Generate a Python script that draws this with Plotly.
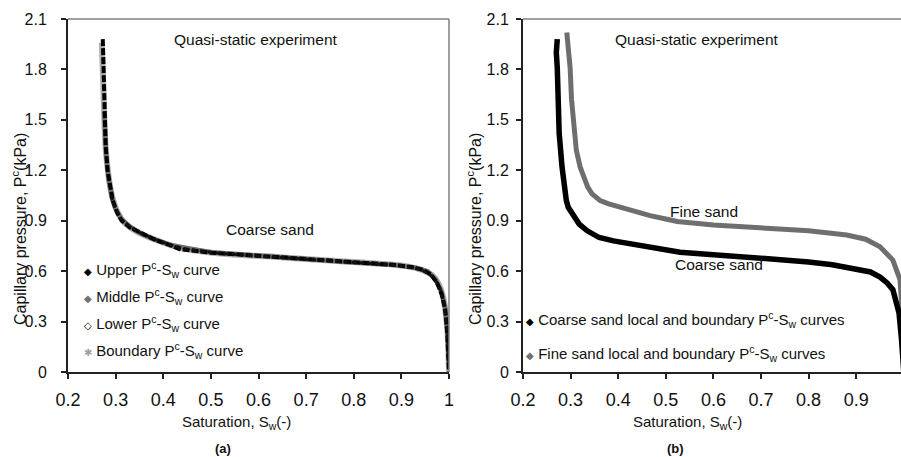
import plotly.graph_objects as go

W, H = 901, 457

# ---------------- data ----------------
# Panel (a): coarse sand, quasi-static experiment
upper_sw = [0.273, 0.274, 0.275, 0.276, 0.279, 0.283, 0.288, 0.294, 0.303, 0.313, 0.330, 0.351,
            0.380, 0.414, 0.435, 0.500, 0.576, 0.650, 0.750, 0.820, 0.891, 0.920, 0.946, 0.962,
            0.975, 0.985, 0.992, 0.996, 0.999, 1.000]
upper_pc = [1.98, 1.85, 1.70, 1.50, 1.35, 1.20, 1.10, 1.02, 0.95, 0.90, 0.86, 0.83,
            0.79, 0.755, 0.73, 0.71, 0.696, 0.68, 0.662, 0.65, 0.636, 0.625, 0.607, 0.58,
            0.53, 0.46, 0.37, 0.25, 0.10, 0.00]

middle_sw = [0.276, 0.280, 0.285, 0.292, 0.300, 0.312, 0.330, 0.352, 0.385, 0.420, 0.500, 0.600,
             0.700, 0.800, 0.880, 0.930, 0.955, 0.972, 0.984, 0.992, 0.997, 1.000]
middle_pc = [1.55, 1.30, 1.15, 1.04, 0.97, 0.91, 0.865, 0.825, 0.785, 0.752, 0.712, 0.69,
             0.668, 0.652, 0.638, 0.62, 0.60, 0.55, 0.48, 0.38, 0.22, 0.02]

lower_sw = [0.290, 0.298, 0.310, 0.328, 0.350, 0.390, 0.440, 0.520, 0.620, 0.720, 0.820, 0.900,
            0.940, 0.965, 0.980, 0.990, 0.996, 1.000]
lower_pc = [1.05, 0.98, 0.915, 0.87, 0.83, 0.78, 0.735, 0.705, 0.686, 0.665, 0.648, 0.632,
            0.612, 0.57, 0.51, 0.40, 0.26, 0.03]

boundary_sw = [0.271, 0.273, 0.275, 0.277, 0.280, 0.285, 0.290, 0.297, 0.306, 0.316, 0.333, 0.355,
               0.385, 0.420, 0.460, 0.540, 0.620, 0.700, 0.780, 0.860, 0.910, 0.945, 0.965,
               0.978, 0.988, 0.994, 0.998, 1.000]
boundary_pc = [1.96, 1.80, 1.62, 1.45, 1.30, 1.17, 1.08, 1.00, 0.94, 0.895, 0.855, 0.82,
               0.785, 0.75, 0.725, 0.70, 0.688, 0.672, 0.658, 0.643, 0.63, 0.605, 0.575,
               0.525, 0.44, 0.33, 0.18, 0.00]

series_a_names = ["Upper P<sup>c</sup>-S<sub>w</sub> curve",
                  "Middle P<sup>c</sup>-S<sub>w</sub> curve",
                  "Lower P<sup>c</sup>-S<sub>w</sub> curve",
                  "Boundary P<sup>c</sup>-S<sub>w</sub> curve"]

# Panel (b): coarse sand vs fine sand
coarse_sw = [0.272, 0.270, 0.272, 0.276, 0.282, 0.287, 0.291, 0.295, 0.305, 0.318, 0.335, 0.360,
             0.390, 0.430, 0.470, 0.530, 0.600, 0.700, 0.800, 0.850, 0.900, 0.930, 0.950,
             0.965, 0.977, 0.985, 0.990, 0.995, 1.000]
coarse_pc = [1.98, 1.90, 1.81, 1.42, 1.22, 1.10, 1.02, 0.98, 0.93, 0.88, 0.84, 0.80,
             0.78, 0.76, 0.74, 0.712, 0.698, 0.678, 0.655, 0.638, 0.615, 0.595, 0.565,
             0.53, 0.49, 0.42, 0.35, 0.20, 0.00]

fine_sw = [0.292, 0.296, 0.299, 0.302, 0.307, 0.312, 0.320, 0.327, 0.336, 0.345, 0.362, 0.380,
           0.410, 0.440, 0.467, 0.500, 0.524, 0.600, 0.700, 0.800, 0.880, 0.920, 0.950,
           0.977, 0.992, 0.998, 1.000]
fine_pc = [2.02, 1.90, 1.81, 1.62, 1.42, 1.32, 1.22, 1.16, 1.10, 1.06, 1.02, 1.00,
           0.975, 0.95, 0.93, 0.91, 0.895, 0.875, 0.857, 0.84, 0.815, 0.79, 0.745,
           0.666, 0.55, 0.30, 0.00]

series_b_names = ["Coarse sand local and boundary P<sup>c</sup>-S<sub>w</sub> curves",
                  "Fine sand local and boundary P<sup>c</sup>-S<sub>w</sub> curves"]

x_ticks = [0.2, 0.3, 0.4, 0.5, 0.6, 0.7, 0.8, 0.9, 1.0]
x_ticktext = ["0.2", "0.3", "0.4", "0.5", "0.6", "0.7", "0.8", "0.9", "1"]
y_ticks = [0, 0.3, 0.6, 0.9, 1.2, 1.5, 1.8, 2.1]
y_ticktext = ["0", "0.3", "0.6", "0.9", "1.2", "1.5", "1.8", "2.1"]

# ---------------- layout helpers ----------------
def px(x):
    return x / W

def py(y):
    return 1 - y / H

FONT = "Liberation Sans, Arial, sans-serif"
TICKFONT = "Liberation Sans Narrow, Arial Narrow, Liberation Sans, Arial, sans-serif"

fig = go.Figure()

# panel (a) traces
fig.add_trace(go.Scatter(x=boundary_sw, y=boundary_pc, mode="lines", name=series_a_names[3],
                         line=dict(color="#b0b0b0", width=6, shape="spline", smoothing=0.6),
                         xaxis="x", yaxis="y", showlegend=False))
fig.add_trace(go.Scatter(x=middle_sw, y=middle_pc, mode="lines", name=series_a_names[1],
                         line=dict(color="#707070", width=4.5), xaxis="x", yaxis="y", showlegend=False))
fig.add_trace(go.Scatter(x=upper_sw, y=upper_pc, mode="lines", name=series_a_names[0],
                         line=dict(color="#000000", width=4, dash="7px,2px"), xaxis="x", yaxis="y",
                         showlegend=False))
fig.add_trace(go.Scatter(x=lower_sw, y=lower_pc, mode="lines", name=series_a_names[2],
                         line=dict(color="#111111", width=3, dash="5px,3px"), xaxis="x", yaxis="y",
                         showlegend=False))

# panel (b) traces
fig.add_trace(go.Scatter(x=fine_sw, y=fine_pc, mode="lines", name=series_b_names[1],
                         line=dict(color="#6e6e6e", width=5), xaxis="x2", yaxis="y2", showlegend=False))
fig.add_trace(go.Scatter(x=coarse_sw, y=coarse_pc, mode="lines", name=series_b_names[0],
                         line=dict(color="#000000", width=5.5), xaxis="x2", yaxis="y2", showlegend=False))

axis_common = dict(showgrid=False, zeroline=False, showline=True, linecolor="#222222", linewidth=2,
                   ticks="outside", ticklen=5, tickwidth=1.5, tickcolor="#222222", automargin=False)

fig.update_layout(
    width=W, height=H,
    margin=dict(l=0, r=0, t=0, b=0, autoexpand=False),
    paper_bgcolor="white", plot_bgcolor="white",
    font=dict(family=FONT, color="#111111"),
    xaxis=dict(domain=[px(68), px(449)], range=[0.2, 1.0], tickvals=x_ticks, ticktext=x_ticktext,
               anchor="y", ticklabelstandoff=5, **axis_common),
    yaxis=dict(domain=[py(372), py(19)], range=[0, 2.1], tickvals=y_ticks, ticktext=y_ticktext,
               anchor="x", ticklabelstandoff=11, **axis_common),
    xaxis2=dict(domain=[px(523), 1.0], range=[0.2, 0.2 + (901 - 523) / 476.0], tickvals=x_ticks[:-1],
                ticktext=x_ticktext[:-1], anchor="y2", ticklabelstandoff=5, **axis_common),
    yaxis2=dict(domain=[py(372), py(19)], range=[0, 2.1], tickvals=y_ticks, ticktext=y_ticktext,
                anchor="x2", ticklabelstandoff=4, **axis_common),
)
fig.update_xaxes(tickfont=dict(family=TICKFONT, size=18, color="#111111"))
fig.update_yaxes(tickfont=dict(family=TICKFONT, size=16, color="#111111"))

# frame lines (top and right borders)
fig.add_shape(type="line", xref="x domain", yref="y domain", x0=0, x1=1, y0=1, y1=1,
              line=dict(color="#808080", width=1.5))
fig.add_shape(type="line", xref="x domain", yref="y domain", x0=1, x1=1, y0=0, y1=1,
              line=dict(color="#808080", width=1.5))
fig.add_shape(type="line", xref="x2 domain", yref="y2 domain", x0=0, x1=1, y0=1, y1=1,
              line=dict(color="#808080", width=1.5))

ann = []
def label(text, x, y, size=14, **kw):
    d = dict(text=text, x=px(x), y=py(y), xref="paper", yref="paper", showarrow=False,
             xanchor="center", yanchor="middle",
             font=dict(family=FONT, size=size, color="#111111"))
    d.update(kw)
    ann.append(d)

# in-plot labels
label("Quasi-static experiment", 256, 39, size=15.5)
label("Coarse sand", 270, 230, size=15.5)
label("Quasi-static experiment", 697, 39, size=15.5)
label("Fine sand", 704, 211, size=15.5)
label("Coarse sand", 719, 264, size=15.5)

# axis titles
label("Capillary pressure, P<sup>c</sup>(kPa)", 19, 229, size=16, textangle=-90)
label("Capillary pressure, P<sup>c</sup>(kPa)", 474, 229, size=16, textangle=-90)
label("Saturation, S<sub>w</sub>(-)", 236, 422, size=15)
label("Saturation, S<sub>w</sub>(-)", 687, 422, size=15)
label("<b>(a)</b>", 223, 448, size=13)
label("<b>(b)</b>", 675, 448, size=13)

# legend entries (symbol + name)
sym_a = [("◆", "#000000"), ("◆", "#707070"), ("◇", "#000000"), ("✱", "#a0a0a0")]
rows_a = [269, 296, 323, 350]
for (s, c), name, yy in zip(sym_a, series_a_names, rows_a):
    label(f'<span style="font-size:10px;color:{c}">{s}</span> {name}', 82, yy, size=15,
          xanchor="left", valign="middle")
sym_b = [("◆", "#000000"), ("◆", "#707070")]
rows_b = [319, 353]
for (s, c), name, yy in zip(sym_b, series_b_names, rows_b):
    label(f'<span style="font-size:10px;color:{c}">{s}</span> {name}', 524, yy, size=15,
          xanchor="left", valign="middle")

fig.update_layout(annotations=ann)
fig.write_html("out.html")
